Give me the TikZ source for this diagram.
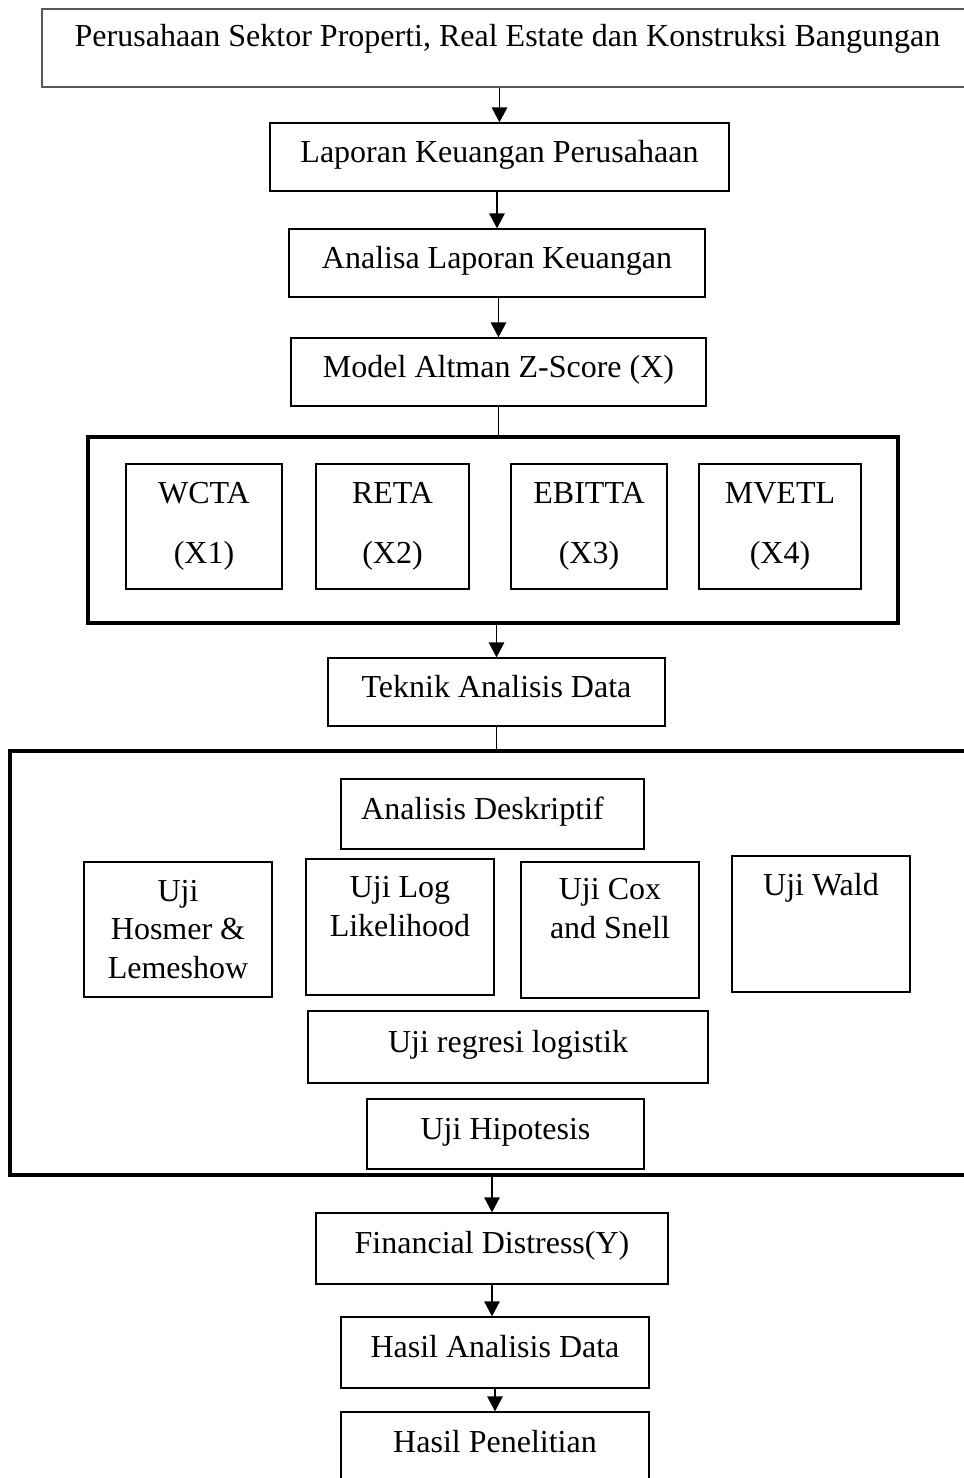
\documentclass[tikz,border=0pt]{standalone}
\usepackage{fontspec}
\setmainfont{Liberation Serif}
\usetikzlibrary{arrows.meta}
\newcommand{\pxu}{0.375pt}
\tikzset{
	kotak/.style={draw, line width=0.5pt, inner sep=0pt, align=center},
	baris/.style={kotak, text height=8.5pt, text depth=4.7pt},
	atas/.style={kotak, draw=black!65, line width=0.8pt, text height=8.5pt, text depth=10pt},
	grup/.style={draw, line width=1.3pt, inner sep=0pt},
	tulis/.style={inner sep=0pt, align=center, anchor=north},
	panah/.style={line width=0.5pt, -{Triangle[length=5.6pt,width=5.8pt]}},
	garis/.style={line width=0.5pt}
}

\begin{document}
\begin{tikzpicture}[x=\pxu, y=-\pxu, font=\fontsize{12}{14.6}\selectfont]
	\useasboundingbox (0,0) rectangle (963,1478);

	\node[atas, minimum width=931*\pxu, minimum height=78*\pxu] (sektor) at (507.5,48) {Perusahaan Sektor Properti, Real Estate dan Konstruksi Bangungan};
	\node[baris, minimum width=459*\pxu, minimum height=68*\pxu] (lapkeu) at (499.5,157) {Laporan Keuangan Perusahaan};
	\node[baris, minimum width=416*\pxu, minimum height=68*\pxu] (analisa) at (497,263) {Analisa Laporan Keuangan};
	\node[baris, minimum width=415*\pxu, minimum height=68*\pxu] (altman) at (498.5,372) {Model Altman Z-Score (X)};

	\node[grup, minimum width=810*\pxu, minimum height=186*\pxu] (grup1) at (493,530) {};
	\foreach \nama/\cx/\lebar/\teks/\k in {wcta/204/156/WCTA/1, reta/392.5/153/RETA/2, ebitta/589/156/EBITTA/3, mvetl/780/162/MVETL/4}
		\node[kotak, minimum width=\lebar*\pxu, minimum height=125*\pxu] (\nama) at (\cx,526.5) {\teks\\[8pt](X\k)};

	\node[baris, minimum width=337*\pxu, minimum height=68*\pxu] (teknik) at (496.5,692) {Teknik Analisis Data};

	\node[grup, minimum width=965*\pxu, minimum height=424*\pxu] (grup2) at (492.5,963) {};
	\node[baris, minimum width=303*\pxu, minimum height=70*\pxu] (deskriptif) at (492.5,814) {Analisis Deskriptif\hspace*{7.5pt}};
	\node[kotak, minimum width=188*\pxu, minimum height=135*\pxu] (hosmer) at (178,929.5) {Uji\\Hosmer \&\\Lemeshow};
	\node[kotak, minimum width=188*\pxu, minimum height=136*\pxu] (loglik) at (400,927) {};
	\node[tulis] (loglik-t) at (400,876) {Uji Log\\Likelihood};
	\node[kotak, minimum width=178*\pxu, minimum height=136*\pxu] (cox) at (610,930) {};
	\node[tulis] (cox-t) at (610,878) {Uji Cox\\and Snell};
	\node[kotak, minimum width=178*\pxu, minimum height=136*\pxu] (wald) at (821,924) {};
	\node[tulis] (wald-t) at (821,873) {Uji Wald};
	\node[baris, minimum width=400*\pxu, minimum height=72*\pxu] (regresi) at (508,1047) {Uji regresi logistik};
	\node[baris, minimum width=277*\pxu, minimum height=70*\pxu] (hipotesis) at (505.5,1134) {Uji Hipotesis};

	\node[baris, minimum width=352*\pxu, minimum height=71*\pxu] (distress) at (492,1248.5) {Financial Distress(Y)};
	\node[baris, minimum width=308*\pxu, minimum height=71*\pxu] (hasil) at (495,1352.5) {Hasil Analisis Data};
	\node[baris, minimum width=308*\pxu, minimum height=71*\pxu] (penelitian) at (495,1447.5) {Hasil Penelitian};

	\draw[panah] (sektor.south -| lapkeu.north) -- (lapkeu.north);
	\draw[panah] (lapkeu.south -| analisa.north) -- (analisa.north);
	\draw[panah] (analisa.south -| altman.north) -- (altman.north);
	\draw[garis] (altman.south) -- (altman.south |- grup1.north);
	\draw[panah] (grup1.south -| teknik.north) -- (teknik.north);
	\draw[garis] (teknik.south) -- (teknik.south |- grup2.north);
	\draw[panah] (grup2.south -| distress.north) -- (distress.north);
	\draw[panah] (distress.south) -- (distress.south |- hasil.north);
	\draw[panah] (hasil.south) -- (penelitian.north);
\end{tikzpicture}
\end{document}
